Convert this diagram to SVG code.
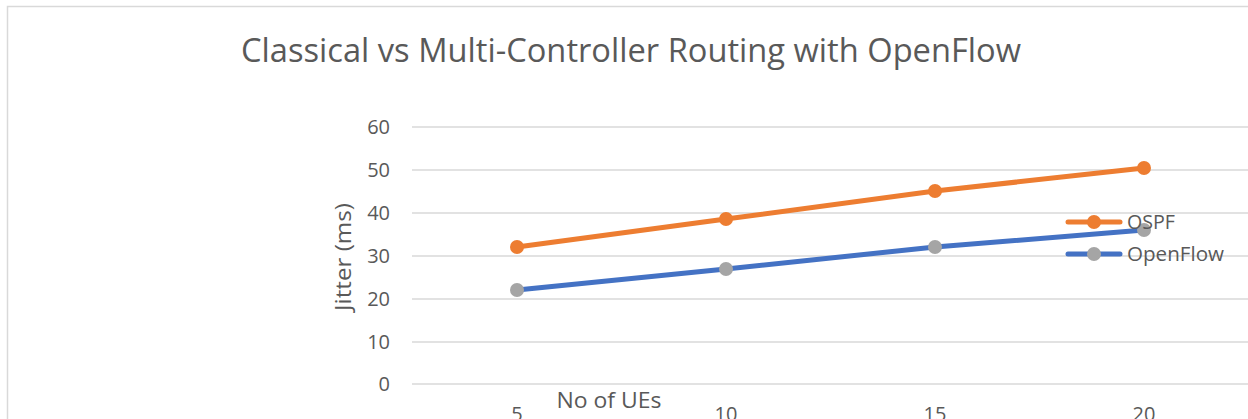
<svg xmlns="http://www.w3.org/2000/svg" width="1248" height="419" viewBox="0 0 1248 419">
<style>
.lbl{font-family:"Open Sans","Liberation Sans",sans-serif;font-size:20px;fill:#595959}
.ttl{font-family:"Open Sans","Liberation Sans",sans-serif;font-size:22px;fill:#595959}
.grid{stroke:#d9d9d9;stroke-width:1.5}
.ospf{stroke:#ed7d31;stroke-width:5;fill:none;stroke-linecap:round}
.of{stroke:#4472c4;stroke-width:5;fill:none;stroke-linecap:round}
.mo{fill:#ed7d31}
.mg{fill:#a5a5a5}
</style>
<rect x="0" y="0" width="1248" height="419" fill="#fff"/>
<rect x="7.5" y="6.5" width="1260" height="430" fill="#fff" stroke="#d9d9d9" stroke-width="1.5"/>
<g id="title"><text x="631" y="62" text-anchor="middle" font-family="Open Sans, Liberation Sans, sans-serif" font-size="33" fill="#595959" textLength="780" lengthAdjust="spacingAndGlyphs">Classical vs Multi-Controller Routing with OpenFlow</text></g>
<g id="gridlines">
<line class="grid" x1="412" y1="127" x2="1248" y2="127"/>
<line class="grid" x1="412" y1="170" x2="1248" y2="170"/>
<line class="grid" x1="412" y1="213" x2="1248" y2="213"/>
<line class="grid" x1="412" y1="256" x2="1248" y2="256"/>
<line class="grid" x1="412" y1="299" x2="1248" y2="299"/>
<line class="grid" x1="412" y1="342" x2="1248" y2="342"/>
<line class="grid" x1="412" y1="384" x2="1248" y2="384"/>
</g>
<g id="yaxis">
<text class="lbl" x="390" y="134" text-anchor="end">60</text>
<text class="lbl" x="390" y="177" text-anchor="end">50</text>
<text class="lbl" x="390" y="220" text-anchor="end">40</text>
<text class="lbl" x="390" y="263" text-anchor="end">30</text>
<text class="lbl" x="390" y="306" text-anchor="end">20</text>
<text class="lbl" x="390" y="349" text-anchor="end">10</text>
<text class="lbl" x="390" y="391" text-anchor="end">0</text>
<text class="ttl" transform="translate(351,257) rotate(-90)" text-anchor="middle" textLength="108" lengthAdjust="spacingAndGlyphs">Jitter (ms)</text>
</g>
<g id="xaxis">
<text class="lbl" x="517" y="421" text-anchor="middle">5</text>
<text class="lbl" x="726" y="421" text-anchor="middle">10</text>
<text class="lbl" x="935" y="421" text-anchor="middle">15</text>
<text class="lbl" x="1144" y="421" text-anchor="middle">20</text>
<text class="ttl" x="609" y="408" text-anchor="middle" textLength="105" lengthAdjust="spacingAndGlyphs">No of UEs</text>
</g>
<g id="connectors">
<polyline class="ospf" points="517,247 726,219 935,191 1144,168"/>
<polyline class="of" points="517,290 726,269 935,247 1144,230"/>
</g>
<g id="ospf-points">
<circle class="mo" cx="517" cy="247" r="7"/>
<circle class="mo" cx="726" cy="219" r="7"/>
<circle class="mo" cx="935" cy="191" r="7"/>
<circle class="mo" cx="1144" cy="168" r="7"/>
</g>
<g id="openflow-points">
<circle class="mg" cx="517" cy="290" r="7"/>
<circle class="mg" cx="726" cy="269" r="7"/>
<circle class="mg" cx="935" cy="247" r="7"/>
<circle class="mg" cx="1144" cy="230" r="7"/>
</g>
<g id="legend">
<line class="ospf" x1="1068" y1="222" x2="1120" y2="222"/>
<circle class="mo" cx="1094" cy="222" r="7"/>
<text class="lbl" x="1127" y="229" textLength="48" lengthAdjust="spacingAndGlyphs">OSPF</text>
<line class="of" x1="1068" y1="254" x2="1120" y2="254"/>
<circle class="mg" cx="1094" cy="254" r="7"/>
<text class="lbl" x="1127" y="261" textLength="97" lengthAdjust="spacingAndGlyphs">OpenFlow</text>
</g>
</svg>
